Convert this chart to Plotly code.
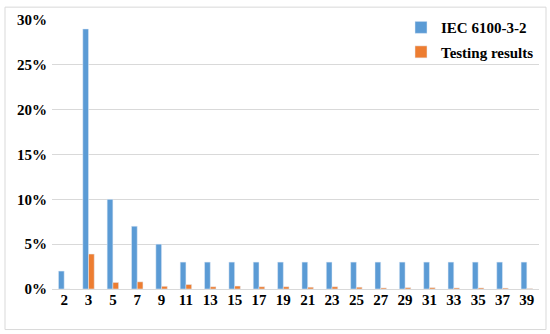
import plotly.graph_objects as go

# harmonic order and values (fraction)
HARMONICS = ['2', '3', '5', '7', '9', '11', '13', '15', '17', '19',
             '21', '23', '25', '27', '29', '31', '33', '35', '37', '39']
IEC_LIMIT = [0.02, 0.29, 0.10, 0.07, 0.05, 0.03, 0.03, 0.03, 0.03, 0.03,
             0.03, 0.03, 0.03, 0.03, 0.03, 0.03, 0.03, 0.03, 0.03, 0.03]
TESTING = [0.0, 0.039, 0.0073, 0.008, 0.003, 0.005, 0.0025, 0.0033, 0.0025, 0.0025,
           0.002, 0.0025, 0.002, 0.0012, 0.0015, 0.0015, 0.0012, 0.0012, 0.001, 0.0005]
Y_TICKS = [0, 0.05, 0.10, 0.15, 0.20, 0.25, 0.30]

BLUE = '#5B9BD5'
ORANGE = '#ED7D31'
FONT = 'Liberation Serif, Times New Roman, serif'
BOLD = dict(family=FONT, size=15, color='black', weight='bold')

fig = go.Figure()

fig.add_trace(go.Bar(
    x=HARMONICS, y=IEC_LIMIT, name='IEC 6100-3-2',
    marker_color=BLUE, legendgroup='a'
))
fig.add_trace(go.Bar(
    x=HARMONICS, y=TESTING, name='Testing results',
    marker_color=ORANGE, legendgroup='b'
))

fig.update_layout(
    width=550, height=334,
    paper_bgcolor='white',
    plot_bgcolor='white',
    font=dict(family=FONT, color='black', size=14),
    margin=dict(l=52, r=11, t=17, b=45),
    barmode='group',
    bargap=0.53,
    bargroupgap=0,
    xaxis=dict(
        type='category',
        showgrid=False,
        showline=False,
        ticks='',
        tickfont=BOLD,
    ),
    yaxis=dict(
        range=[0, 0.30],
        tickvals=Y_TICKS,
        tickformat='.0%',
        showgrid=True,
        gridcolor='#D9D9D9',
        gridwidth=1,
        zeroline=True,
        zerolinecolor='#D9D9D9',
        zerolinewidth=1,
        tickfont=BOLD,
        ticks='',
        ticklabelstandoff=4,
    ),
    legend=dict(
        x=1.0, y=1.033,
        xanchor='right', yanchor='top',
        bgcolor='rgba(0,0,0,0)',
        font=BOLD,
        traceorder='grouped',
        tracegroupgap=2,
        itemwidth=30,
    ),
    shapes=[dict(
        type='rect', xref='paper', yref='paper',
        x0=(5 - 52) / 487, x1=(546 - 52) / 487,
        y0=(289 - 330) / 272, y1=(289 - 4) / 272,
        line=dict(color='#D9D9D9', width=1),
        layer='below',
    )],
)

fig.write_html('out.html', config={'displayModeBar': False},
               post_script="document.body.style.margin='0';")
